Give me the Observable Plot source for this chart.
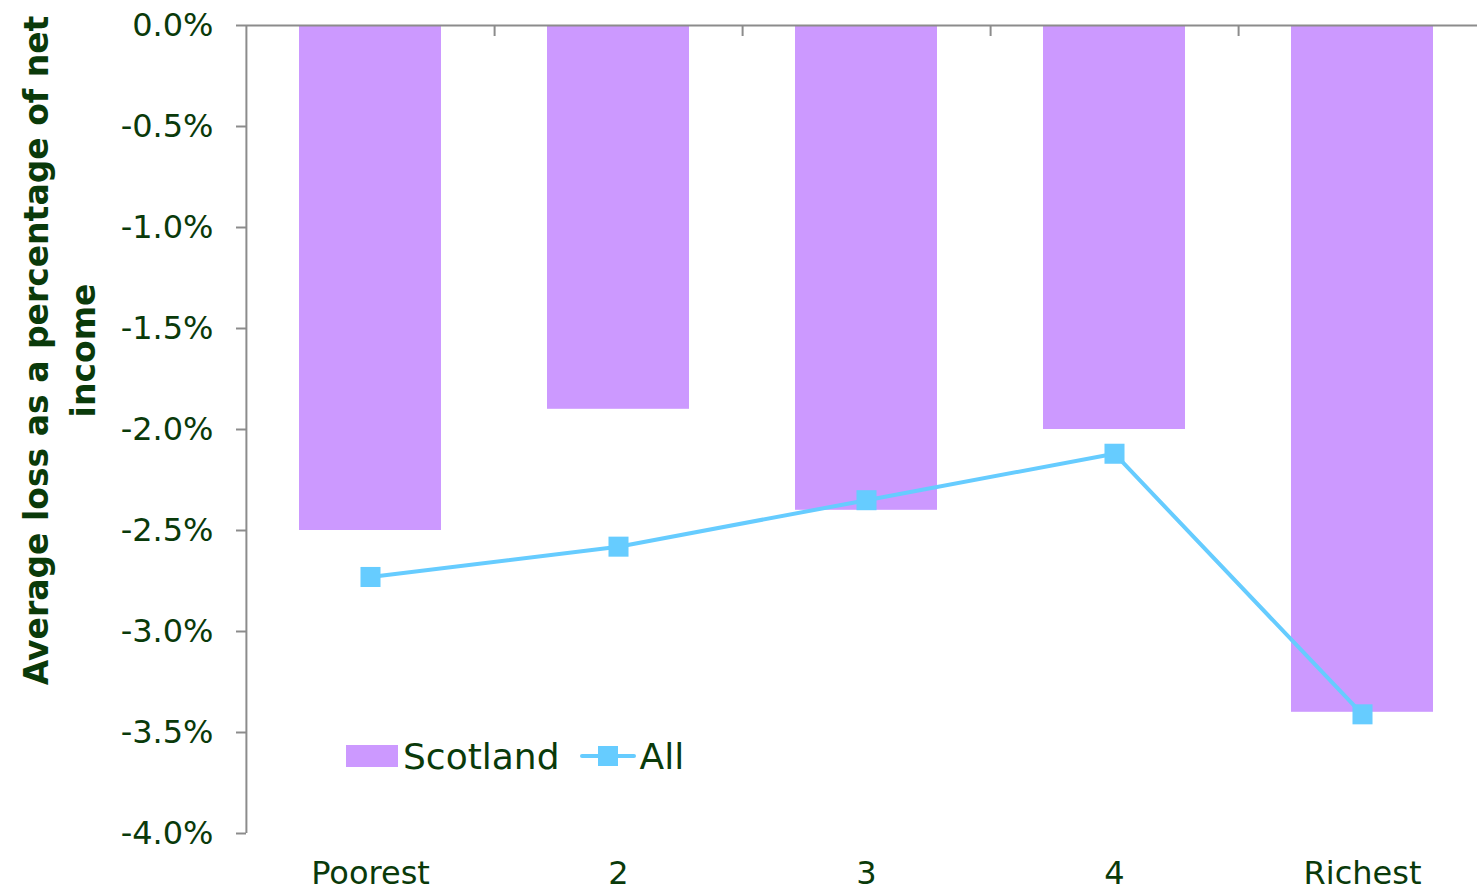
<!DOCTYPE html>
<html><head><meta charset="utf-8">
<script src="https://cdn.jsdelivr.net/npm/d3@7"></script>
<script src="https://cdn.jsdelivr.net/npm/@observablehq/plot@0.6"></script>
<style>
body{margin:0;background:#fff;}
#wrap{position:relative;width:1477px;height:893px;overflow:hidden;font-family:"DejaVu Sans",sans-serif;}
#legend{position:absolute;left:346px;top:736px;height:40px;display:flex;align-items:center;color:#0a3a0a;font-size:36px;white-space:nowrap;}
#legend .sw{display:inline-block;width:52px;height:22px;background:#cc99ff;margin-right:5px;}
#legend svg{margin-left:20px;margin-right:4px;}
</style></head><body><div id="wrap"></div>
<script>
const categories = ["Poorest", "2", "3", "4", "Richest"];
const scotland = [-2.5, -1.9, -2.4, -2.0, -3.4];
const all = [-2.73, -2.58, -2.35, -2.12, -3.41];
const yTicks = [0, -0.5, -1.0, -1.5, -2.0, -2.5, -3.0, -3.5, -4.0];
const yTitle = "Average loss as a percentage of net\nincome";
const seriesNames = ["Scotland", "All"];

const ink = "#0a3a0a", grey = "#8c8c8c", purple = "#cc99ff", blue = "#66ccff";
const data = categories.map((c, i) => ({cat: c, scotland: scotland[i], all: all[i]}));
const xRange = [246, 1487];
const step = (xRange[1] - xRange[0]) / categories.length;

const chart = Plot.plot({
  width: 1477, height: 893,
  marginTop: 25, marginBottom: 60, marginLeft: 246, marginRight: 0,
  style: {fontFamily: "DejaVu Sans, sans-serif", color: ink, background: "transparent"},
  x: {domain: categories, range: xRange, paddingInner: 0.427, paddingOuter: 0.2135, axis: null},
  y: {domain: [-4, 0], axis: null},
  marks: [
    Plot.barY(data, {x: "cat", y: "scotland", fill: purple}),
    Plot.ruleY([0], {stroke: grey, strokeWidth: 2}),
    Plot.ruleX([categories[0]], {dx: -step / 2, stroke: grey, strokeWidth: 2}),
    Plot.axisX({anchor: "top", tickSize: -10, dx: step / 2, tickFormat: null, stroke: grey, strokeWidth: 2, label: null}),
    Plot.axisX({anchor: "bottom", tickSize: 0, tickPadding: 28, fontSize: 32, label: null}),
    Plot.axisY({ticks: yTicks, tickFormat: d => d.toFixed(1) + "%", tickSize: 10, tickPadding: 23, fontSize: 32, stroke: grey, strokeWidth: 2, label: null}),
    Plot.line(data, {x: "cat", y: "all", stroke: blue, strokeWidth: 4}),
    Plot.dot(data, {x: "cat", y: "all", symbol: "square", r: 11.3, fill: blue, stroke: "none"}),
    Plot.text([yTitle], {frameAnchor: "left", textAnchor: "middle", rotate: -90, dx: -190, dy: -79, fontSize: 33, fontWeight: "bold", lineHeight: 1.42, fill: ink})
  ]
});
const wrap = document.getElementById("wrap");
wrap.appendChild(chart);

const legend = document.createElement("div");
legend.id = "legend";
legend.innerHTML = `<span class="sw"></span><span>${seriesNames[0]}</span>` +
  `<svg width="56" height="24" viewBox="0 0 56 24"><line x1="2" y1="12" x2="54" y2="12" stroke="${blue}" stroke-width="4" stroke-linecap="round"/><rect x="18" y="2" width="20" height="20" fill="${blue}"/></svg>` +
  `<span>${seriesNames[1]}</span>`;
wrap.appendChild(legend);
</script></body></html>
